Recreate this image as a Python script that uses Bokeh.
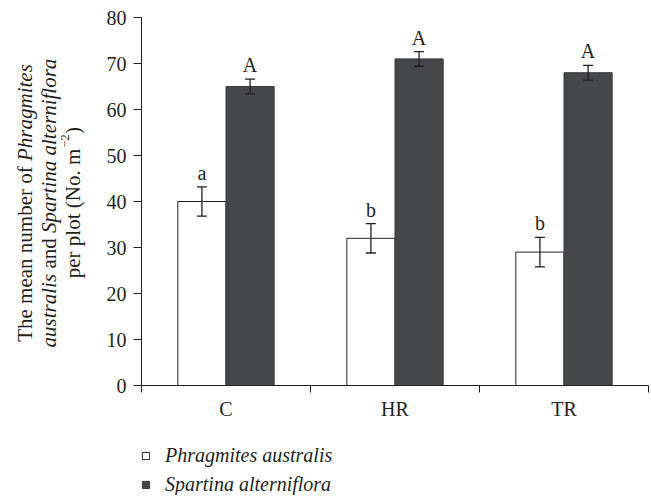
import math
from bokeh.plotting import figure
from bokeh.models import (ColumnDataSource, Range1d, FixedTicker, Whisker, TeeHead,
                          Label, Legend, LegendItem)
from bokeh.transform import dodge
from bokeh.core.properties import value
from bokeh.embed import file_html
from bokeh.resources import INLINE

# ---- data ----
categories = ["C", "HR", "TR"]
phragmites = [40, 32, 29]
phragmites_err = [3.2, 3.2, 3.2]
phragmites_letters = ["a", "b", "b"]
spartina = [65, 71, 68]
spartina_err = [1.6, 1.6, 1.6]
spartina_letters = ["A", "A", "A"]
y_ticks = [0, 10, 20, 30, 40, 50, 60, 70, 80]
y_max = 80
series_names = ["Phragmites australis", "Spartina alterniflora"]

FONT = "Liberation Serif"
TXT = "#231f20"
DARK = "#464749"

# ---- layout (page pixels) ----
W, H = 650, 495
AX_L, AX_R, AX_T, AX_B = 141, 648, 17, 385     # where the axes box sits
n = len(categories)
XPX = (AX_R - AX_L) / n          # pixels per category
YPX = (AX_B - AX_T) / y_max      # pixels per y unit
LETTER_GAP = 14 / YPX            # gap between error cap and letter (data units)


def dx(px):
    return (px - AX_L) / XPX


def dy(py):
    return (AX_B - py) / YPX


centers = [i + 0.5 for i in range(n)]
p_hi = [v + e for v, e in zip(phragmites, phragmites_err)]
s_hi = [v + e for v, e in zip(spartina, spartina_err)]
src = ColumnDataSource(dict(
    x=centers,
    p=phragmites, p_lo=[v - e for v, e in zip(phragmites, phragmites_err)],
    p_hi=p_hi, p_let=phragmites_letters, p_ly=[h + LETTER_GAP for h in p_hi],
    s=spartina, s_lo=[v - e for v, e in zip(spartina, spartina_err)],
    s_hi=s_hi, s_let=spartina_letters, s_ly=[h + LETTER_GAP for h in s_hi],
))

p = figure(width=W, height=H, x_range=Range1d(dx(0), dx(W)), y_range=Range1d(dy(H), dy(0)),
           output_backend="svg", toolbar_location=None,
           min_border_left=0, min_border_right=0, min_border_top=0, min_border_bottom=0)
p.outline_line_color = None
p.xgrid.grid_line_color = None
p.ygrid.grid_line_color = None

BW = 0.285
OFF = 0.1425
r1 = p.vbar(x=dodge("x", -OFF), top="p", width=BW, source=src,
            fill_color="white", line_color=TXT, line_width=1)
r2 = p.vbar(x=dodge("x", OFF), top="s", width=BW, source=src,
            fill_color=DARK, line_color="#3a3a3a", line_width=1)

for xo, lo, hi in [(-OFF, "p_lo", "p_hi"), (OFF, "s_lo", "s_hi")]:
    w = Whisker(base=dodge("x", xo), lower=lo, upper=hi, source=src, level="overlay",
                line_color=TXT, line_width=1.3,
                upper_head=TeeHead(size=10, line_color=TXT, line_width=1.3),
                lower_head=TeeHead(size=10, line_color=TXT, line_width=1.3))
    p.add_layout(w)

p.text(x=dodge("x", -OFF), y="p_ly", text="p_let", source=src, text_align="center",
       text_baseline="alphabetic", text_font=value(FONT),
       text_font_size="20px", text_color=TXT)
p.text(x=dodge("x", OFF), y="s_ly", text="s_let", source=src, text_align="center",
       text_baseline="alphabetic", text_font=value(FONT),
       text_font_size="20px", text_color=TXT)

# axes (fixed at the data origin, limited to the data box)
xa = p.xaxis[0]
xa.fixed_location = 0
xa.bounds = (0, n)
xa.ticker = FixedTicker(ticks=centers, minor_ticks=list(range(n + 1)))
xa.major_label_overrides = {c: lab for c, lab in zip(centers, categories)}
xa.major_tick_out = 0
xa.major_tick_in = 0
xa.minor_tick_out = 7
xa.minor_tick_in = 0
xa.minor_tick_line_color = TXT
xa.axis_line_color = TXT
xa.major_label_standoff = 5
xa.major_label_text_font = FONT
xa.major_label_text_font_size = "20px"
xa.major_label_text_color = TXT

ya = p.yaxis[0]
ya.fixed_location = 0
ya.bounds = (0, y_max)
ya.ticker = FixedTicker(ticks=y_ticks)
ya.major_tick_out = 8
ya.major_tick_in = 0
ya.minor_tick_line_color = None
ya.major_tick_line_color = TXT
ya.axis_line_color = TXT
ya.major_label_standoff = 7
ya.major_label_text_font = FONT
ya.major_label_text_font_size = "20px"
ya.major_label_text_color = TXT

legend = Legend(items=[LegendItem(label=series_names[0], renderers=[r1]),
                       LegendItem(label=series_names[1], renderers=[r2])],
                location=(141, H - 496), orientation="vertical",
                glyph_width=9, glyph_height=9, label_standoff=15, padding=0, margin=0,
                spacing=6, label_height=20, label_text_font=FONT,
                label_text_font_size="20px", label_text_font_style="italic",
                label_text_color=TXT, background_fill_alpha=0, border_line_alpha=0)
p.add_layout(legend, "center")

# ---- y-axis title (mixed roman / italic), rotated ----
segments = [
    # text, baseline x (px), start y (px), size, style
    ("The mean number of", 24, 341.3, "21px", "normal"),
    ("Phragmites", 24, 160.5, "21px", "italic"),
    ("australis", 48, 346.9, "21px", "italic"),
    ("and", 48, 268.1, "21px", "normal"),
    ("Spartina alterniflora", 48, 232.6, "21px", "italic"),
    ("per plot (No. m", 72, 277.7, "21px", "normal"),
    ("\u22122", 64, 147.6, "13px", "normal"),
    (")", 72, 133.6, "21px", "normal"),
]
for t, bx, sy, fs, st in segments:
    p.add_layout(Label(x=dx(bx), y=dy(sy), text=t, angle=math.pi / 2,
                       text_align="left", text_baseline="alphabetic",
                       text_font=FONT, text_font_size=fs, text_font_style=st,
                       text_color=TXT))

open("out.html", "w").write(file_html(p, INLINE))
